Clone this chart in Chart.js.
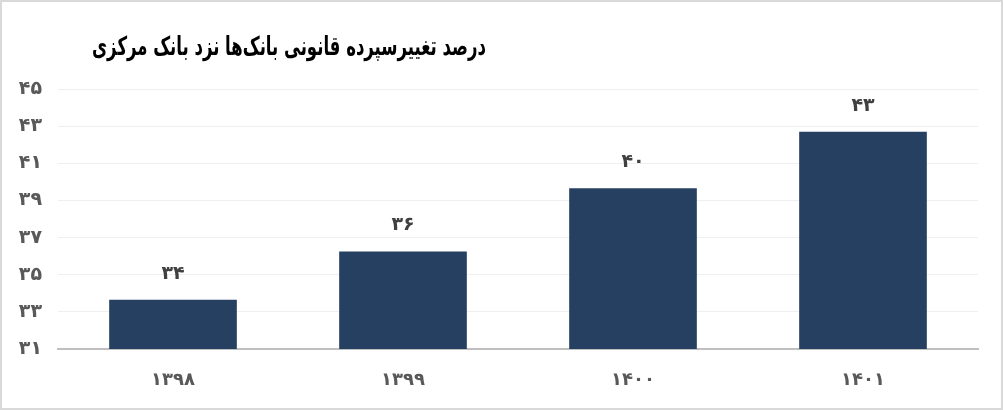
<!DOCTYPE html>
<html>
<head>
<meta charset="utf-8">
<script src="https://cdn.jsdelivr.net/npm/chart.js@4"></script>
<style>
  html, body { margin: 0; padding: 0; background: #fff; }
  #wrap { position: relative; width: 1003px; height: 410px; box-sizing: border-box; border: 2px solid #d9d9d9; }
  canvas { display: block; }
</style>
</head>
<body>
<div id="wrap"><canvas id="chart" width="999" height="406"></canvas></div>
<script>
const TITLE = "درصد تغییرسپرده قانونی بانک‌ها نزد بانک مرکزی";
const years = [1398, 1399, 1400, 1401];
const reserveRate = [33.65, 36.25, 39.65, 42.7];
const yTicks = [31, 33, 35, 37, 39, 41, 43, 45];

const FONT = "'DejaVu Sans', sans-serif";

function fa(n) {
  return String(n).replace(/\d/g, d => "۰۱۲۳۴۵۶۷۸۹"[d]);
}

// title sits right-aligned above the left part of the plot
const titlePlugin = {
  id: "faTitle",
  afterDraw(chart) {
    const ctx = chart.ctx;
    ctx.save();
    ctx.font = "bold 26px " + FONT;
    ctx.fillStyle = "#000";
    ctx.direction = "rtl";
    ctx.textAlign = "right";
    ctx.textBaseline = "middle";
    ctx.fillText(TITLE, 484, 46, 394);
    ctx.restore();
  }
};

// rounded value above each bar
const labelPlugin = {
  id: "barLabels",
  afterDatasetsDraw(chart) {
    const ctx = chart.ctx;
    const meta = chart.getDatasetMeta(0);
    ctx.save();
    ctx.font = "bold 19px " + FONT;
    ctx.fillStyle = "#404040";
    ctx.textAlign = "center";
    ctx.textBaseline = "middle";
    meta.data.forEach((bar, i) => {
      ctx.fillText(fa(Math.round(reserveRate[i])), bar.x, bar.y - 26);
    });
    ctx.restore();
  }
};

new Chart(document.getElementById("chart"), {
  type: "bar",
  data: {
    labels: years.map(fa),
    datasets: [{
      data: reserveRate,
      backgroundColor: "#264061",
      barPercentage: 0.555,
      categoryPercentage: 1
    }]
  },
  options: {
    responsive: false,
    animation: false,
    layout: { padding: { top: 87, right: 23, bottom: 0, left: 0 } },
    plugins: { legend: { display: false }, tooltip: { enabled: false }, title: { display: false } },
    scales: {
      x: {
        grid: { display: false },
        border: { display: true, color: "#bfbfbf", width: 2 },
        ticks: { color: "#595959", font: { family: FONT, size: 18, weight: "bold" }, padding: 13 },
        afterFit(s) { s.height = 59; }
      },
      y: {
        min: 31, max: 45,
        afterBuildTicks(s) { s.ticks = yTicks.map(v => ({ value: v })); },
        grid: { color: "#efefef", lineWidth: 1, drawTicks: false },
        border: { display: false },
        ticks: { color: "#595959", font: { family: FONT, size: 19, weight: "bold" }, padding: 16, callback: v => fa(v) },
        afterFit(s) { s.width = 56; }
      }
    }
  },
  plugins: [titlePlugin, labelPlugin]
});
</script>
</body>
</html>
